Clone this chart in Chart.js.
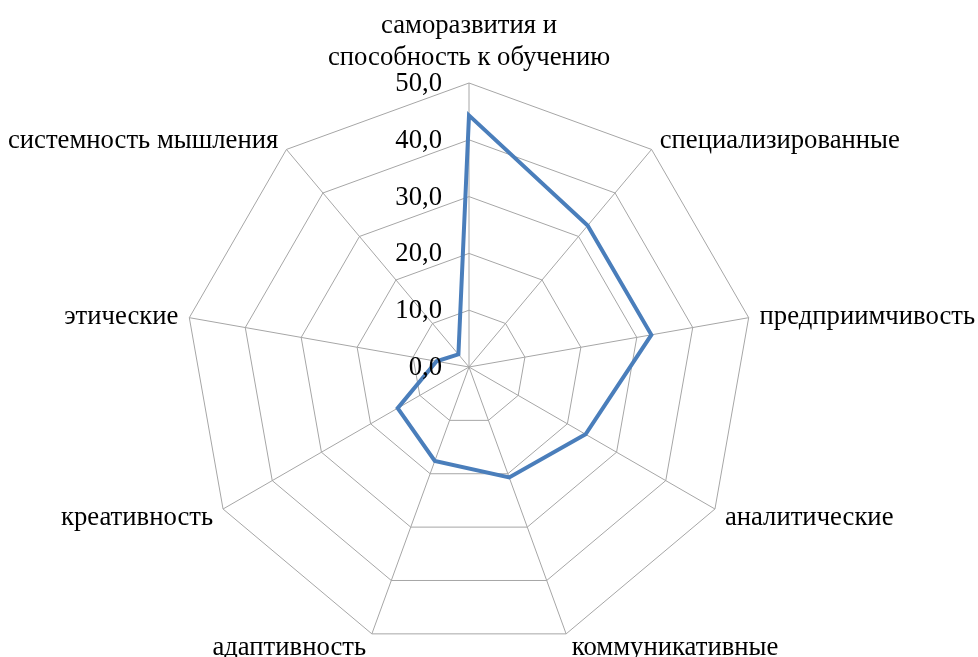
<!DOCTYPE html>
<html>
<head>
<meta charset="utf-8">
<script src="https://cdn.jsdelivr.net/npm/chart.js@4"></script>
<style>
  html, body { margin: 0; padding: 0; background: #fff; }
  #wrap { width: 978px; height: 657px; }
</style>
</head>
<body>
<div id="wrap"><canvas id="radar" width="978" height="657"></canvas></div>
<script>
// categories, clockwise from top
const labels = [
  ['саморазвития и', 'способность к обучению'],
  'специализированные',
  'предприимчивость',
  'аналитические',
  'коммуникативные',
  'адаптивность',
  'креативность',
  'этические',
  'системность мышления'
];
const values = [44.3, 32.5, 32.6, 23.7, 20.7, 17.6, 14.5, 5.8, 2.9];
const tickValues = [0, 10, 20, 30, 40, 50];
const tickLabels = ['0,0', '10,0', '20,0', '30,0', '40,0', '50,0'];

const FONT = '26.7px "Liberation Serif", "Times New Roman", serif';

// draw point labels and tick labels next to the axes, Excel style
const labelPlugin = {
  id: 'excelLabels',
  afterDraw(chart) {
    const scale = chart.scales.r;
    const ctx = chart.ctx;
    ctx.save();
    ctx.font = FONT;
    ctx.fillStyle = '#000';
    ctx.textBaseline = 'alphabetic';

    // ticks: right aligned, left of the vertical axis
    tickValues.forEach((v, i) => {
      const p = scale.getPointPositionForValue(0, v);
      ctx.textAlign = 'right';
      ctx.fillText(tickLabels[i], scale.xCenter - 27, p.y + 8);
    });

    // point labels
    labels.forEach((lbl, i) => {
      const p = scale.getPointPosition(i, scale.drawingArea + 8);
      const lines = Array.isArray(lbl) ? lbl : [lbl];
      if (i === 0) {
        ctx.textAlign = 'center';
        lines.forEach((t, k) => {
          ctx.fillText(t, p.x, p.y - 10 - (lines.length - 1 - k) * 32);
        });
        return;
      }
      const theta = scale.getIndexAngle(i);
      ctx.textAlign = p.x > scale.xCenter ? 'left' : 'right';
      const dx = p.x > scale.xCenter ? 3 : -3;
      ctx.fillText(lines[0], p.x + dx, p.y + 9 - 5 * Math.cos(theta));
    });
    ctx.restore();
  }
};

new Chart(document.getElementById('radar'), {
  type: 'radar',
  data: {
    labels: labels,
    datasets: [{
      data: values,
      borderColor: '#4a7ebb',
      backgroundColor: 'rgba(0,0,0,0)',
      borderWidth: 4,
      borderJoinStyle: 'miter',
      pointRadius: 0,
      fill: false
    }]
  },
  options: {
    responsive: false,
    animation: false,
    devicePixelRatio: 1,
    layout: { padding: { left: 185, right: 225, top: 83, bottom: 6 } },
    plugins: {
      legend: { display: false },
      tooltip: { enabled: false }
    },
    scales: {
      r: {
        min: 0,
        max: 50,
        ticks: { stepSize: 10, display: false },
        grid: { color: '#a6a6a6', lineWidth: 1 },
        angleLines: { color: '#a6a6a6', lineWidth: 1 },
        pointLabels: { display: false }
      }
    }
  },
  plugins: [labelPlugin]
});
</script>
</body>
</html>
